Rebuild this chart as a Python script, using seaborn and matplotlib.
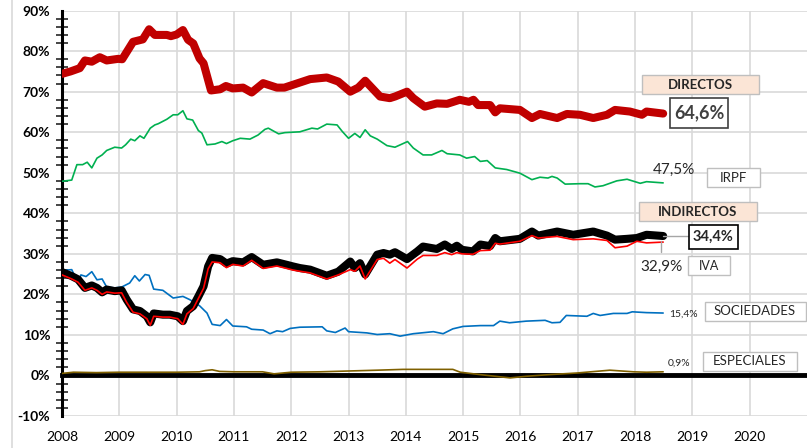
import matplotlib
matplotlib.use("Agg")
import matplotlib.pyplot as plt
import matplotlib.patches as mpatches
import pandas as pd
import seaborn as sns
import numpy as np

# ==============================================================================
# 1. DATOS (peso de cada impuesto sobre la recaudación, %)
# ==============================================================================
anio_directos = [2008.00, 2008.15, 2008.31, 2008.40, 2008.52, 2008.66, 2008.78, 2008.98, 2009.05, 2009.24,
                 2009.41, 2009.52, 2009.62, 2009.83, 2009.90, 2010.00, 2010.11, 2010.20, 2010.29, 2010.40,
                 2010.47, 2010.60, 2010.76, 2010.86, 2010.98, 2011.16, 2011.31, 2011.51, 2011.75, 2011.88,
                 2012.03, 2012.33, 2012.62, 2012.82, 2013.03, 2013.17, 2013.29, 2013.55, 2013.72, 2013.81,
                 2014.02, 2014.13, 2014.33, 2014.54, 2014.72, 2014.94, 2015.10, 2015.18, 2015.26, 2015.47,
                 2015.56, 2015.64, 2015.99, 2016.20, 2016.34, 2016.64, 2016.81, 2017.04, 2017.27, 2017.51,
                 2017.65, 2017.91, 2018.12, 2018.20, 2018.49]
directos = [74.4, 75.0, 75.8, 77.7, 77.4, 78.5, 77.7, 78.1, 78.0, 82.3,
            82.9, 85.4, 84.0, 84.0, 83.7, 84.1, 85.2, 82.8, 81.9, 78.2,
            77.0, 70.3, 70.6, 71.4, 70.8, 71.0, 69.8, 72.1, 71.0, 71.0,
            71.7, 73.1, 73.5, 72.5, 70.0, 71.0, 72.7, 68.8, 68.4, 68.8,
            70.0, 68.4, 66.3, 67.1, 67.0, 68.0, 67.5, 68.0, 66.7, 66.7,
            64.9, 65.9, 65.5, 63.5, 64.5, 63.5, 64.5, 64.3, 63.5, 64.3,
            65.5, 65.1, 64.3, 65.1, 64.6]

anio_irpf = [2008.00, 2008.17, 2008.26, 2008.36, 2008.44, 2008.52, 2008.61, 2008.70, 2008.78, 2008.92,
             2009.04, 2009.11, 2009.20, 2009.27, 2009.36, 2009.43, 2009.54, 2009.62, 2009.68, 2009.83,
             2009.94, 2010.02, 2010.11, 2010.18, 2010.28, 2010.38, 2010.44, 2010.53, 2010.67, 2010.79,
             2010.87, 2010.98, 2011.11, 2011.28, 2011.42, 2011.54, 2011.60, 2011.78, 2011.89, 2012.15,
             2012.36, 2012.46, 2012.62, 2012.80, 2012.89, 2013.00, 2013.11, 2013.20, 2013.29, 2013.38,
             2013.50, 2013.67, 2013.81, 2014.03, 2014.13, 2014.30, 2014.45, 2014.63, 2014.72, 2014.94,
             2015.06, 2015.20, 2015.30, 2015.42, 2015.56, 2015.76, 2015.99, 2016.20, 2016.34, 2016.48,
             2016.55, 2016.64, 2016.78, 2017.04, 2017.18, 2017.30, 2017.44, 2017.68, 2017.86, 2018.09,
             2018.20, 2018.49]
irpf = [47.9, 48.2, 52.0, 52.0, 52.6, 51.2, 53.6, 54.4, 55.5, 56.3,
        56.1, 56.9, 58.3, 57.9, 59.1, 58.5, 61.0, 61.8, 62.1, 63.2,
        64.3, 64.3, 65.3, 63.3, 63.0, 60.4, 59.8, 56.9, 57.1, 57.7,
        57.2, 57.9, 58.5, 58.3, 59.3, 60.7, 61.0, 59.6, 59.9, 60.1,
        61.0, 60.8, 62.0, 61.8, 60.2, 58.5, 59.7, 58.7, 60.6, 59.1,
        58.3, 56.7, 56.3, 57.7, 56.1, 54.4, 54.4, 55.5, 54.7, 54.4,
        53.6, 54.0, 52.8, 53.0, 51.2, 50.8, 49.9, 48.3, 48.9, 48.7,
        49.1, 48.7, 47.2, 47.3, 47.3, 46.5, 46.8, 48.0, 48.4, 47.4,
        47.8, 47.5]

anio_indirectos = [2008.00, 2008.17, 2008.28, 2008.40, 2008.52, 2008.61, 2008.70, 2008.78, 2008.92, 2009.04,
                   2009.13, 2009.24, 2009.36, 2009.48, 2009.54, 2009.60, 2009.76, 2009.88, 2010.02, 2010.11,
                   2010.18, 2010.29, 2010.38, 2010.47, 2010.55, 2010.62, 2010.76, 2010.87, 2010.98, 2011.16,
                   2011.31, 2011.51, 2011.75, 2011.92, 2012.03, 2012.15, 2012.33, 2012.62, 2012.82, 2013.03,
                   2013.11, 2013.20, 2013.29, 2013.50, 2013.61, 2013.72, 2013.81, 2014.02, 2014.20, 2014.30,
                   2014.54, 2014.68, 2014.80, 2014.89, 2014.98, 2015.17, 2015.30, 2015.47, 2015.56, 2015.64,
                   2015.99, 2016.20, 2016.31, 2016.64, 2016.92, 2017.27, 2017.51, 2017.65, 2017.86, 2018.03,
                   2018.20, 2018.49]
indirectos = [25.5, 24.5, 23.7, 21.6, 22.2, 21.6, 20.5, 21.2, 20.8, 21.0,
              18.7, 16.3, 15.9, 14.6, 13.1, 15.3, 15.0, 15.0, 14.6, 13.4,
              15.9, 17.1, 19.5, 22.0, 26.9, 29.0, 28.7, 27.6, 28.2, 27.9,
              29.2, 27.3, 27.9, 27.3, 26.9, 26.5, 26.1, 24.6, 25.6, 28.1,
              26.5, 27.7, 24.9, 29.8, 30.2, 29.8, 30.4, 28.7, 30.6, 31.8,
              31.2, 32.3, 31.2, 32.0, 31.0, 30.6, 32.3, 31.9, 33.9, 33.1,
              33.7, 35.5, 34.5, 35.5, 34.7, 35.5, 34.5, 33.5, 33.7, 33.9,
              34.7, 34.4]
iva = [24.8, 23.8, 23.0, 21.0, 21.6, 21.0, 20.0, 20.6, 20.3, 20.4,
       18.0, 15.6, 15.2, 14.0, 12.4, 14.6, 14.4, 14.4, 14.0, 12.6,
       15.2, 16.5, 19.0, 21.5, 26.3, 28.0, 27.8, 26.6, 27.4, 27.0,
       28.4, 26.4, 27.0, 26.4, 26.0, 25.7, 25.3, 23.8, 24.8, 26.1,
       25.7, 27.0, 23.8, 28.6, 28.9, 27.7, 28.6, 26.5, 28.7, 29.6,
       29.6, 30.3, 29.8, 30.3, 30.0, 29.9, 30.8, 30.9, 32.6, 32.4,
       33.1, 34.5, 33.9, 34.3, 33.5, 33.7, 33.3, 31.5, 31.9, 33.1,
       32.7, 32.9]

anio_sociedades = [2008.00, 2008.17, 2008.28, 2008.33, 2008.42, 2008.52, 2008.61, 2008.70, 2008.78, 2008.92,
                   2009.04, 2009.18, 2009.27, 2009.35, 2009.45, 2009.52, 2009.60, 2009.76, 2009.94, 2010.11,
                   2010.23, 2010.40, 2010.53, 2010.62, 2010.76, 2010.87, 2010.98, 2011.22, 2011.31, 2011.51,
                   2011.63, 2011.75, 2011.85, 2011.98, 2012.15, 2012.54, 2012.62, 2012.77, 2012.94, 2013.00,
                   2013.32, 2013.50, 2013.72, 2013.90, 2014.13, 2014.48, 2014.65, 2014.82, 2015.00, 2015.30,
                   2015.53, 2015.64, 2015.81, 2016.10, 2016.43, 2016.55, 2016.69, 2016.80, 2017.16, 2017.27,
                   2017.39, 2017.62, 2017.86, 2017.95, 2018.20, 2018.49]
sociedades = [25.9, 26.1, 22.8, 24.8, 24.4, 25.6, 23.6, 23.8, 21.8, 21.6,
              21.8, 22.8, 24.6, 23.3, 24.9, 24.7, 21.3, 21.0, 19.1, 19.5,
              18.7, 17.2, 15.4, 12.6, 12.3, 13.8, 12.2, 12.0, 11.4, 11.2,
              10.3, 11.0, 10.8, 11.6, 11.9, 12.0, 11.0, 10.6, 11.7, 10.8,
              10.5, 10.1, 10.3, 9.7, 10.3, 10.8, 10.3, 11.5, 12.1, 12.3,
              12.3, 13.4, 13.0, 13.4, 13.6, 13.0, 13.1, 14.8, 14.6, 15.3,
              14.8, 15.3, 15.3, 15.7, 15.5, 15.4]

anio_especiales = [2008.00, 2008.20, 2008.60, 2009.00, 2009.50, 2010.00, 2010.40, 2010.50, 2010.62, 2010.75,
                   2011.00, 2011.50, 2011.70, 2012.00, 2012.50, 2013.00, 2013.50, 2013.95, 2014.50, 2014.82,
                   2014.95, 2015.30, 2015.82, 2016.10, 2016.50, 2016.98, 2017.56, 2017.97, 2018.20, 2018.49]
especiales = [0.5, 0.8, 0.7, 0.8, 0.8, 0.8, 0.9, 1.2, 1.4, 1.0,
              0.9, 0.9, 0.4, 0.8, 0.9, 1.1, 1.3, 1.5, 1.5, 1.5,
              0.8, 0.2, -0.6, -0.2, 0.2, 0.6, 1.3, 0.9, 0.8, 0.9]

anios_eje = list(range(2008, 2021))

# ==============================================================================
# 2. GRÁFICO
# ==============================================================================
sns.set_style("white")
plt.rcParams['font.family'] = ['Lato', 'DejaVu Sans']

W, H = 807, 448
fig = plt.figure(figsize=(W / 100, H / 100), dpi=100)
ax = fig.add_axes([62 / W, 1 - 416 / H, 1 - 62 / W, (416 - 10.6) / H])

series = [
    (anio_especiales, especiales, '#7F6000', 1.2, 3),
    (anio_sociedades, sociedades, '#0070C0', 1.2, 3),
    (anio_irpf, irpf, '#00B050', 1.2, 3),
    (anio_directos, directos, '#C00000', 5.8, 4),
    (anio_indirectos, indirectos, '#000000', 5.8, 4),
    (anio_indirectos, iva, '#FF0000', 1.2, 5),
]
for x, y, color, lw, z in series:
    sns.lineplot(x=x, y=y, color=color, linewidth=lw, ax=ax, zorder=z,
                 estimator=None, sort=False, solid_joinstyle='round', solid_capstyle='round')

ax.set_xlim(2008, 2021)
ax.set_ylim(-10, 90)
ax.set_xticks(anios_eje)
ax.set_yticks(range(-10, 91, 10))
ax.set_yticks(range(-10, 91, 2), minor=True)
ax.set_yticklabels([f'{v}%' for v in range(-10, 91, 10)], fontweight='bold', fontsize=10)
ax.set_xticklabels([str(a) for a in anios_eje], fontsize=10.5)

ax.grid(True, which='major', color='#D9D9D9', linewidth=1.2)
ax.set_axisbelow(True)

for s in ['top', 'right']:
    ax.spines[s].set_visible(False)
ax.spines['left'].set_linewidth(2.2)
ax.spines['left'].set_color('black')
ax.spines['bottom'].set_position(('data', 0))
ax.spines['bottom'].set_linewidth(3.5)
ax.spines['bottom'].set_color('black')
ax.spines['bottom'].set_zorder(2)

ax.tick_params(axis='y', which='major', direction='inout', length=9, width=1.5, pad=4, colors='black')
ax.tick_params(axis='y', which='minor', direction='inout', length=9, width=1.2, left=True)
ax.tick_params(axis='x', which='major', direction='out', length=3, width=3, pad=37, colors='black')
ax.set_xlabel('')
ax.set_ylabel('')

# borde del área del gráfico
fig.add_artist(plt.Line2D([12 / W, 12 / W], [0, 1], color='#D9D9D9', linewidth=1.2))


# ==============================================================================
# 3. ETIQUETAS
# ==============================================================================
def caja(cx, cy, w, h, fc, ec, lw=1.0):
    fig.add_artist(mpatches.Rectangle(((cx - w / 2) / W, 1 - (cy + h / 2) / H), w / W, h / H,
                                      transform=fig.transFigure, facecolor=fc, edgecolor=ec,
                                      linewidth=lw, zorder=5))


def texto(cx, cy, s, **kw):
    fig.text(cx / W, 1 - cy / H, s, ha='center', va='center', zorder=6, **kw)


peach = '#FBE5D6'
gris = '#BFBFBF'

caja(700, 85, 117, 19, peach, gris)
texto(700, 85, 'DIRECTOS', fontsize=9.5, fontweight='bold')
caja(699, 113, 58, 30, 'white', '#404040', 1.2)
texto(699, 113, '64,6%', fontsize=13, fontweight='bold', color='#404040')

texto(674, 170, '47,5%', fontsize=11, color='#262626')
caja(733, 178, 53, 19, 'white', gris)
texto(733, 178, 'IRPF', fontsize=9.5, color='#262626')

caja(698, 212, 118, 19, peach, gris)
texto(698, 212, 'INDIRECTOS', fontsize=9.5, fontweight='bold')
fig.add_artist(plt.Line2D([663 / W, 688 / W], [1 - 236 / H, 1 - 236 / H], color='#A6A6A6', linewidth=1))
fig.add_artist(plt.Line2D([661 / W, 661 / W], [1 - 241 / H, 1 - 252 / H], color='#A6A6A6', linewidth=1))
caja(713, 237, 49, 24, 'white', 'black', 1.2)
texto(713, 237, '34,4%', fontsize=10.5, fontweight='bold')

texto(661, 267, '32,9%', fontsize=11, color='#262626')
caja(709, 266, 42, 19, 'white', gris)
texto(709, 266, 'IVA', fontsize=9, color='#262626')

texto(683, 314, '15,4%', fontsize=7.5, color='#262626')
caja(755, 311, 101, 19, 'white', gris)
texto(755, 311, 'SOCIEDADES', fontsize=9.5, color='#262626')

texto(679, 363, '0,9%', fontsize=7.5, color='#262626')
caja(750, 361, 94, 19, 'white', gris)
texto(750, 361, 'ESPECIALES', fontsize=9.5, color='#262626')

plt.savefig('out.png', dpi=100)
